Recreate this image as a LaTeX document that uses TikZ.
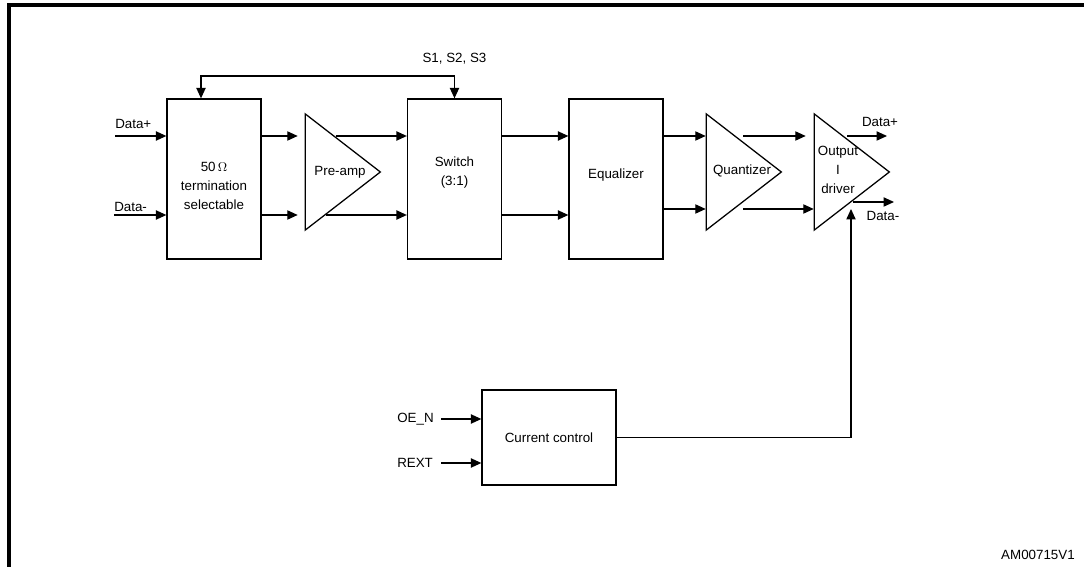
\documentclass[tikz,border=0pt]{standalone}
\usepackage{fontspec}
\setmainfont{Liberation Sans}
\usetikzlibrary{shapes.geometric,arrows.meta}

\begin{document}
\begin{tikzpicture}[
  font=\fontsize{9.5}{13.5}\selectfont,
  >={Triangle[length=2.6mm, width=2.3mm]},
  blk/.style={draw, line width=0.9pt, minimum width=2.35cm, minimum height=4cm, align=center, inner sep=0pt},
  amp/.style={draw, line width=0.9pt, isosceles triangle, isosceles triangle stretches, minimum width=2.9cm, minimum height=1.875cm, inner sep=0pt, anchor=apex},
  sig/.style={->, line width=0.9pt},
  lbl/.style={inner sep=0pt, align=center}
]
\useasboundingbox (0,0) rectangle (27.1,14.175);

% frame
\draw[line width=2.3pt] (0.225,0) -- (0.225,14.05) -- (27.1,14.05);

% levels of the two signal lines
\coordinate (up)  at (0,10.775);
\coordinate (dn)  at (0,8.8);
\coordinate (qdn) at (0,8.95);
\coordinate (ddn) at (0,9.125);

% blocks
\node[blk, label={[lbl, yshift=-1.75mm]center:{50\,$\Omega$\\termination\\selectable}}] (term) at (5.35,9.7) {};
\node[blk, label={[lbl, yshift=1.6mm]center:{Switch\\(3:1)}}] (sw) at (11.3625,9.7) {};
\node[blk, label={[lbl, yshift=1mm]center:Equalizer}] (eq) at (15.4,9.7) {};
\node[blk, minimum width=3.35cm, minimum height=2.375cm] (cc) at (13.725,3.2375) {Current control};

% amplifiers
\node[amp] (pa)  at (9.55,9.875)   {};
\node[amp] (qz)  at (19.575,9.875) {};
\node[amp] (drv) at (22.275,9.875) {};
\node[lbl] (patxt)  at (8.5,9.875)   {Pre-amp};
\node[lbl] (qztxt)  at (18.55,9.9)   {Quantizer};
\node[lbl] (drvtxt) at (20.95,9.925) {Output\\I\\driver};

% inputs and outputs
\coordinate (dpin) at (2.875,10.775);
\coordinate (dmin) at (2.85,8.8);
\coordinate (dpo)  at (22.175,10.775);
\coordinate (dmo)  at (22.35,9.125);
\coordinate (oe)   at (11.025,3.7);
\coordinate (rext) at (11.025,2.6);
\coordinate (drvin) at (21.275,8.95);
\coordinate (fb)   at (11.3625,12.275);

\node[lbl, anchor=south west] (dpinl) at (2.875,10.95) {Data+};
\node[lbl, anchor=south west] (dminl) at (2.85,8.88)   {Data-};
\node[lbl] (dpol) at (22.0,11.125)  {Data+};
\node[lbl] (dmol) at (22.075,8.775) {Data-};
\node[lbl, anchor=west] (oel)   at (9.925,3.7) {OE\_N};
\node[lbl, anchor=west] (rextl) at (9.925,2.6) {REXT};
\node[lbl, above=3mm] (sel) at (fb) {S1, S2, S3};
\node[lbl, anchor=east] (ref) at (26.875,0.3) {AM00715V1};

% connections
\draw[sig] (dpin) -- (dpin -| term.west);
\draw[sig] (dmin) -- (dmin -| term.west);

\draw[sig] (term.east |- up) -- ([xshift=-1.75mm]pa.west |- up);
\draw[sig] (term.east |- dn) -- ([xshift=-1.75mm]pa.west |- dn);

\draw[sig] ([xshift=-11.6mm]pa.apex |- up) -- (sw.west |- up);
\draw[sig] ([xshift=-13.9mm]pa.apex |- dn) -- (sw.west |- dn);

\draw[sig] (sw.east |- up) -- (eq.west |- up);
\draw[sig] (sw.east |- dn) -- (eq.west |- dn);

\draw[sig] (eq.east |- up)  -- (qz.west |- up);
\draw[sig] (eq.east |- qdn) -- (qz.west |- qdn);

\draw[sig] ([xshift=-10mm]qz.apex |- up)  -- ([xshift=-2mm]drv.west |- up);
\draw[sig] ([xshift=-10mm]qz.apex |- qdn) -- (drv.west |- qdn);

\draw[sig] ([xshift=-11mm]drv.apex |- up) -- (dpo);
\draw[sig] ([xshift=-9.5mm]drv.apex |- ddn) -- (dmo);

\draw[sig, <->] ([xshift=-3.25mm]term.north) |- (fb) -- (sw.north);

\draw[sig] (oe) -- (oe -| cc.west);
\draw[sig] (rext) -- (rext -| cc.west);
\draw[sig] (cc.east) -| (drvin);

\end{tikzpicture}
\end{document}
